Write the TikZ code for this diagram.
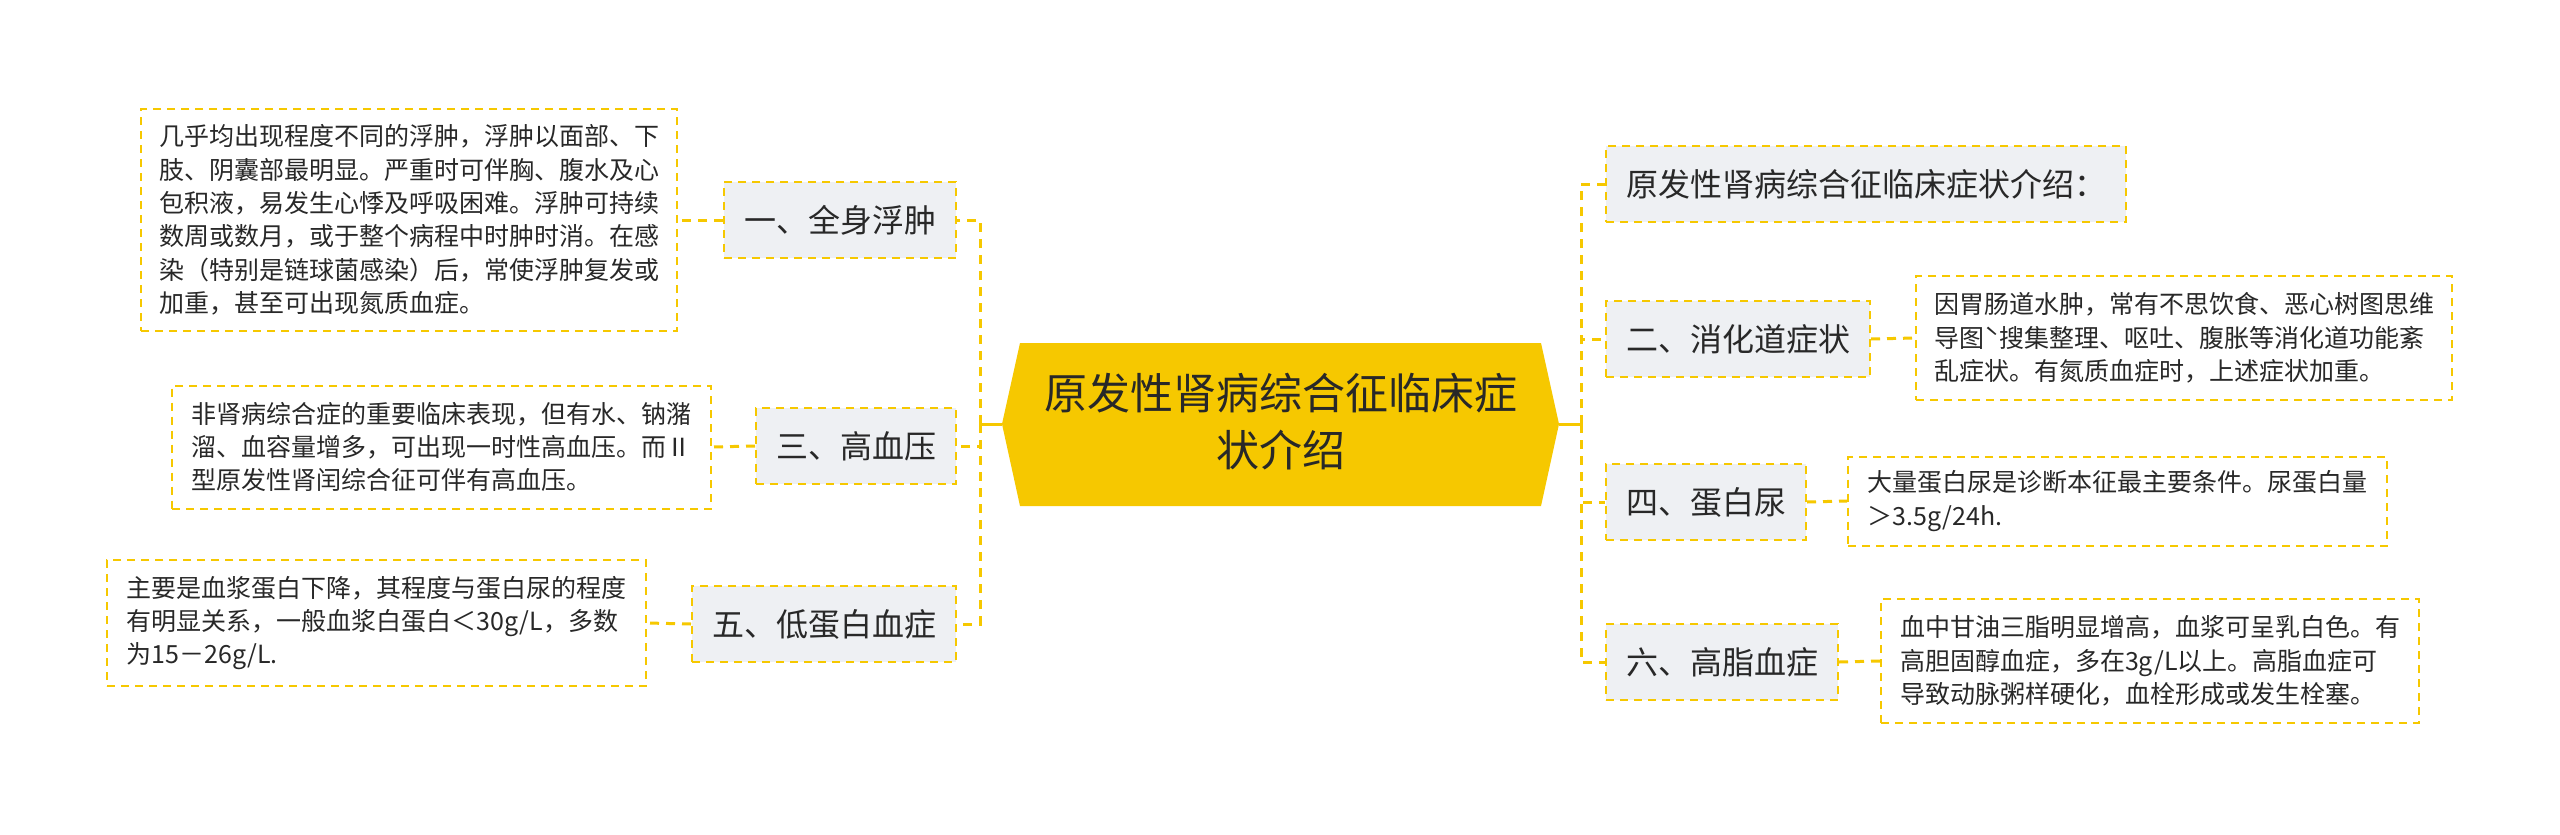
\documentclass[tikz,border=0pt]{standalone}
\usepackage{fontspec}
\setmainfont{Noto Sans CJK SC}
\definecolor{yel}{RGB}{246,200,0}
\definecolor{graybg}{RGB}{238,240,243}
\definecolor{tc}{RGB}{40,40,40}
\tikzset{
  topic/.style={draw=yel, line width=2pt, dash pattern=on 8pt off 6pt, fill=graybg, text=tc,
    font=\fontsize{32}{40}\selectfont, inner xsep=20pt, minimum height=76pt},
  detail/.style={draw=yel, line width=2pt, dash pattern=on 8pt off 6pt, fill=white, text=tc,
    font=\fontsize{25}{33.3}\selectfont, align=left, inner sep=0pt},
  conn/.style={draw=yel, line width=3pt, dash pattern=on 9pt off 7pt},
  trunk/.style={draw=yel, line width=3pt}
}
\begin{document}
\begin{tikzpicture}[x=1pt,y=-1pt]
\fill[white] (0,0) rectangle (2560,835);
\useasboundingbox (0,0) rectangle (2560,835);
% central hexagon
\fill[yel] (1002,424) -- (1020,343) -- (1541,343) -- (1559,424) -- (1541,506) -- (1020,506) -- cycle;
\coordinate (cw) at (1002,424);
\coordinate (ce) at (1559,424);
\coordinate (sl) at (980,424);
\coordinate (sr) at (1581,424);
\node[font=\fontsize{43}{57}\selectfont, align=center, text=tc] (c) at (1281,422) {原发性肾病综合征临床症\\状介绍};
% left topics
\node[topic, anchor=east] (t1) at (957,220) {一、全身浮肿};
\node[topic, anchor=east] (t3) at (957,446) {三、高血压};
\node[topic, anchor=east] (t5) at (957,624) {五、低蛋白血症};
% right topics
\node[topic, anchor=west] (t0) at (1605,184) {原发性肾病综合征临床症状介绍：};
\node[topic, anchor=west] (t2) at (1605,339) {二、消化道症状};
\node[topic, anchor=west] (t4) at (1605,502) {四、蛋白尿};
\node[topic, anchor=west] (t6) at (1605,662) {六、高脂血症};
% left details
\node[detail, anchor=east, minimum width=536pt, minimum height=222pt] (dA) at (678,220) {几乎均出现程度不同的浮肿，浮肿以面部、下\\肢、阴囊部最明显。严重时可伴胸、腹水及心\\包积液，易发生心悸及呼吸困难。浮肿可持续\\数周或数月，或于整个病程中时肿时消。在感\\染（特别是链球菌感染）后，常使浮肿复发或\\加重，甚至可出现氮质血症。};
\node[detail, anchor=east, minimum width=539pt, minimum height=123pt] (dB) at (712,447) {非肾病综合症的重要临床表现，但有水、钠潴\\溜、血容量增多，可出现一时性高血压。而Ⅱ\\型原发性肾闰综合征可伴有高血压。};
\node[detail, anchor=east, minimum width=539pt, minimum height=126pt] (dC) at (647,623) {主要是血浆蛋白下降，其程度与蛋白尿的程度\\有明显关系，一般血浆白蛋白＜30g/L，多数\\为15－26g/L.};
% right details
\node[detail, anchor=west, minimum width=536pt, minimum height=124pt] (dD) at (1915,338) {因胃肠道水肿，常有不思饮食、恶心树图思维\\导图ˋ搜集整理、呕吐、腹胀等消化道功能紊\\乱症状。有氮质血症时，上述症状加重。};
\node[detail, anchor=west, minimum width=539pt, minimum height=89pt] (dE) at (1847,501) {大量蛋白尿是诊断本征最主要条件。尿蛋白量\\＞3.5g/24h.};
\node[detail, anchor=west, minimum width=538pt, minimum height=124pt] (dF) at (1880,661) {血中甘油三脂明显增高，血浆可呈乳白色。有\\高胆固醇血症，多在3g/L以上。高脂血症可\\导致动脉粥样硬化，血栓形成或发生栓塞。};
% trunk
\draw[trunk] (cw) -- (sl);
\draw[trunk] (ce) -- (sr);
% spines
\draw[conn] (sl) |- (t1.east);
\draw[conn] (sl) |- (t3.east);
\draw[conn] (sl) |- (t5.east);
\draw[conn] (sr) |- (t0.west);
\draw[conn] (sr) |- (t2.west);
\draw[conn] (sr) |- (t4.west);
\draw[conn] (sr) |- (t6.west);
% details links
\draw[conn] (t1.west) -- (dA.east);
\draw[conn] (t3.west) -- (dB.east);
\draw[conn] (t5.west) -- (dC.east);
\draw[conn] (t2.east) -- (dD.west);
\draw[conn] (t4.east) -- (dE.west);
\draw[conn] (t6.east) -- (dF.west);
\end{tikzpicture}
\end{document}
